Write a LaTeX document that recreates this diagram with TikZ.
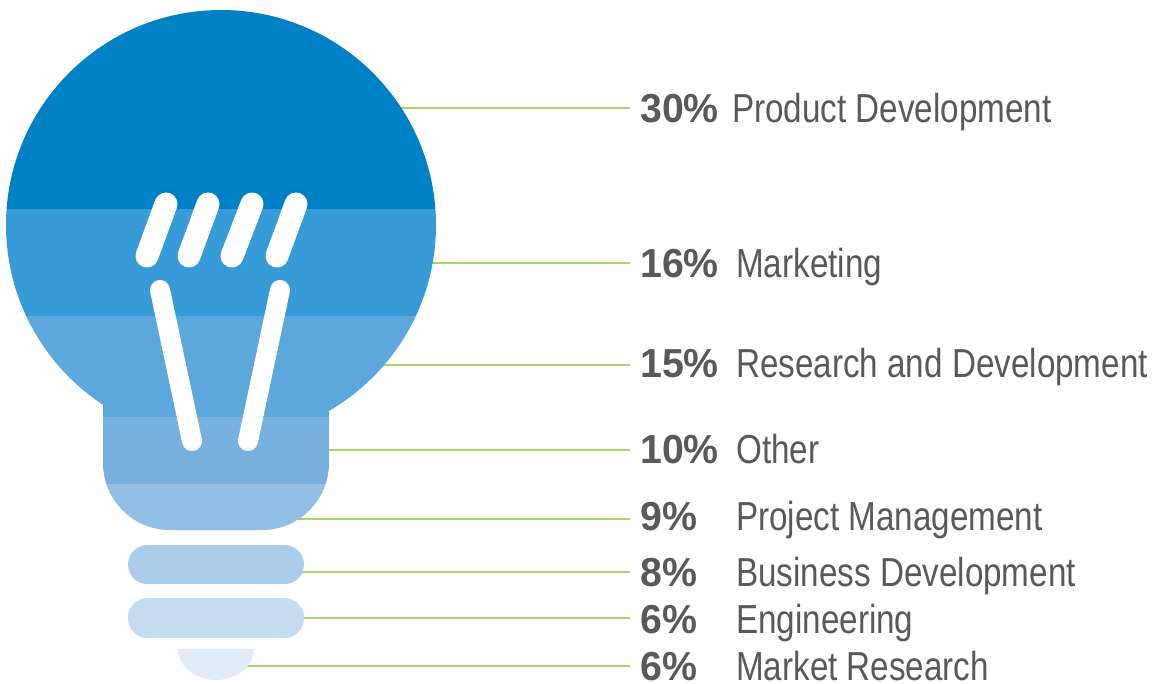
\documentclass[tikz,border=0pt]{standalone}
\usepackage{fontspec}
\setmainfont{Liberation Sans}[FakeStretch=0.82]
\newfontfamily\pctfont{Liberation Sans}[FakeStretch=0.97]
\definecolor{bA}{HTML}{0081C6}
\definecolor{bB}{HTML}{369BD6}
\definecolor{bC}{HTML}{5CA7DB}
\definecolor{bD}{HTML}{78B1DE}
\definecolor{bE}{HTML}{92BEE3}
\definecolor{bF}{HTML}{ABCCEB}
\definecolor{bG}{HTML}{C6DCF0}
\definecolor{bH}{HTML}{E0ECF7}
\definecolor{txt}{HTML}{58595B}
\definecolor{grn}{HTML}{A8D46F}
\begin{document}
\begin{tikzpicture}[x=1pt,y=-1pt,
  conn/.style={draw=grn,line width=1.4pt},
  pct/.style={inner sep=0pt,anchor=base west,text=txt,font=\pctfont\bfseries\fontsize{40.5}{48}\selectfont},
  lab/.style={inner sep=0pt,anchor=base west,text=txt,font=\fontsize{40.5}{48}\selectfont},
  fil/.style={draw=white,line cap=round,line width=23pt},
  leg/.style={draw=white,line cap=round,line width=20pt}]
\useasboundingbox (0,0) rectangle (1153,683);
% connectors (behind the bulb)
\foreach \i/\y in {1/108,2/263,3/365,4/450,5/519,6/572,7/618,8/666}{
  \coordinate (s\i) at (221,\y);
  \coordinate (e\i) at (630,\y);
  \draw[conn] (s\i) -- (e\i);
}
% bulb globe
\begin{scope}
  \clip (221,225) circle[radius=215];
  \fill[bA] (0,0) rectangle (450,209);
  \fill[bB] (0,209) rectangle (450,316);
  \fill[bC] (0,316) rectangle (450,417);
  \fill[bD] (0,417) rectangle (450,484);
\end{scope}
% neck
\begin{scope}
  \clip (103,380) -- (103,463) arc[start angle=180,end angle=90,radius=67]
        -- (262,530) arc[start angle=90,end angle=0,radius=67] -- (329,380) -- cycle;
  \fill[bC] (90,370) rectangle (340,417);
  \fill[bD] (90,417) rectangle (340,484);
  \fill[bE] (90,484) rectangle (340,540);
\end{scope}
% filament
\draw[fil] (166,204) -- (147,256);
\draw[fil] (208,204) -- (189,256);
\draw[fil] (252,204) -- (232,256);
\draw[fil] (296,204) -- (277,256);
\draw[leg] (160,290) -- (192,441);
\draw[leg] (280,290) -- (248,441);
% base
\fill[bF,rounded corners=19.5pt] (128,545) rectangle (304,584);
\fill[bG,rounded corners=19.5pt] (128,598) rectangle (304,638);
\fill[bH] (178,649) arc[start angle=180,end angle=0,x radius=38,y radius=31] -- cycle;
% labels
\node[pct] (p1) at (640,122) {30\%};
\node[lab] (l1) at (732,122) {Product Development};
\node[pct] (p2) at (640,277) {16\%};
\node[lab] (l2) at (736,277) {Marketing};
\node[pct] (p3) at (640,377) {15\%};
\node[lab] (l3) at (736,377) {Research and Development};
\node[pct] (p4) at (640,463) {10\%};
\node[lab] (l4) at (736,463) {Other};
\node[pct] (p5) at (640,530) {9\%};
\node[lab] (l5) at (736,530) {Project Management};
\node[pct] (p6) at (640,586) {8\%};
\node[lab] (l6) at (736,586) {Business Development};
\node[pct] (p7) at (640,633) {6\%};
\node[lab] (l7) at (736,633) {Engineering};
\node[pct] (p8) at (640,680) {6\%};
\node[lab] (l8) at (736,680) {Market Research};
\end{tikzpicture}
\end{document}
